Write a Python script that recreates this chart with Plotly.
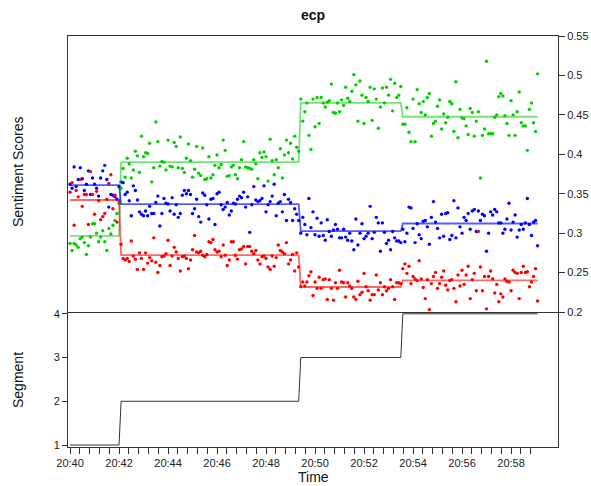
import pandas as pd
import plotly.graph_objects as go

# ---- data ----
seg_numbers = [1, 2, 3, 4]
seg_lengths = [25, 88, 50, 67]          # points per segment (5 s sampling)
green_means = [0.2965, 0.390, 0.4653, 0.4476]
blue_means = [0.361, 0.3367, 0.3025, 0.3122]
red_means = [0.342, 0.272, 0.2317, 0.2402]

green_scores = [
    # segment 1
    0.287, 0.278, 0.287, 0.285, 0.282, 0.293, 0.295, 0.288, 0.273, 0.284,
    0.295, 0.312, 0.312, 0.300, 0.289, 0.295, 0.303, 0.289, 0.278, 0.306,
    0.299, 0.310, 0.316, 0.325, 0.338,
    # segment 2
    0.357, 0.382, 0.371, 0.395, 0.388, 0.370, 0.380, 0.404, 0.398, 0.377,
    0.423, 0.397, 0.402, 0.401, 0.414, 0.365, 0.383, 0.441, 0.416, 0.385,
    0.391, 0.390, 0.380, 0.418, 0.385, 0.384, 0.415, 0.410, 0.383, 0.422,
    0.382, 0.377,
    0.395, 0.413, 0.392, 0.371, 0.381, 0.410, 0.376, 0.373, 0.408, 0.368,
    0.369, 0.397, 0.370, 0.374, 0.386, 0.399, 0.383, 0.387, 0.418, 0.405,
    0.372, 0.373, 0.384, 0.386, 0.374, 0.369, 0.383, 0.393, 0.416, 0.384,
    0.383, 0.382, 0.381, 0.393, 0.388, 0.369, 0.402, 0.396, 0.403, 0.397,
    0.366, 0.419, 0.392, 0.374, 0.393, 0.383, 0.407, 0.370, 0.399, 0.418,
    0.402, 0.414, 0.394, 0.423, 0.409, 0.404,
    # segment 3
    0.470, 0.442, 0.454, 0.465, 0.424, 0.406, 0.470, 0.435, 0.472, 0.439,
    0.472, 0.465, 0.460, 0.466, 0.468, 0.489, 0.453, 0.452, 0.465, 0.454,
    0.469, 0.462, 0.485, 0.471, 0.467, 0.480, 0.501, 0.488, 0.442, 0.493,
    0.475, 0.439, 0.472, 0.467, 0.485, 0.443, 0.483, 0.470, 0.433, 0.460,
    0.484, 0.465, 0.485, 0.475, 0.495, 0.455, 0.490, 0.472, 0.475, 0.486,
    # segment 4
    0.438, 0.438, 0.459, 0.428, 0.416, 0.470, 0.416,
    0.482, 0.464, 0.453, 0.467, 0.450, 0.472, 0.477, 0.423, 0.439, 0.442,
    0.461, 0.469, 0.432, 0.451, 0.440, 0.447, 0.467, 0.464, 0.429, 0.492,
    0.421, 0.457, 0.446, 0.445, 0.436, 0.425, 0.458, 0.453, 0.423, 0.442,
    0.454, 0.370, 0.424, 0.432, 0.518, 0.426, 0.426, 0.426, 0.447, 0.450,
    0.473, 0.477, 0.474, 0.449, 0.439, 0.424, 0.468, 0.450, 0.424, 0.454,
    0.479, 0.440, 0.436, 0.436, 0.405, 0.457, 0.465, 0.440, 0.429, 0.502,
]

blue_scores = [
    # segment 1
    0.362, 0.357, 0.384, 0.359, 0.368, 0.383, 0.369, 0.354, 0.362, 0.379,
    0.349, 0.370, 0.362, 0.357, 0.347, 0.370, 0.379, 0.386, 0.368, 0.333,
    0.349, 0.348, 0.346, 0.343, 0.359,
    # segment 2
    0.365, 0.364, 0.349, 0.352, 0.341, 0.322, 0.360, 0.354, 0.342, 0.327,
    0.324, 0.322, 0.328, 0.322, 0.334, 0.325, 0.325, 0.339, 0.347, 0.309,
    0.325, 0.344, 0.338, 0.337, 0.328, 0.345, 0.324, 0.336, 0.320, 0.325,
    0.348, 0.354,
    0.350, 0.354, 0.349, 0.325, 0.331, 0.343, 0.321, 0.314, 0.351, 0.348,
    0.336, 0.318, 0.343, 0.344, 0.311, 0.350, 0.352, 0.336, 0.330, 0.333,
    0.339, 0.323, 0.328, 0.338, 0.337, 0.343, 0.347, 0.345, 0.352, 0.333,
    0.346, 0.301, 0.336, 0.359, 0.342, 0.340, 0.341, 0.344, 0.360, 0.327,
    0.336, 0.340, 0.347, 0.362, 0.322, 0.338, 0.340, 0.327, 0.349, 0.316,
    0.343, 0.339, 0.316, 0.331, 0.324, 0.316,
    # segment 3
    0.300, 0.320, 0.311, 0.298, 0.344, 0.307, 0.327, 0.298, 0.319, 0.296,
    0.313, 0.297, 0.291, 0.317, 0.302, 0.296, 0.304, 0.311, 0.305, 0.294,
    0.294, 0.305, 0.295, 0.291, 0.300, 0.290, 0.279, 0.318, 0.285, 0.300,
    0.312, 0.293, 0.296, 0.300, 0.334, 0.293, 0.301, 0.320, 0.313, 0.277,
    0.313, 0.301, 0.287, 0.291, 0.279, 0.302, 0.294, 0.290, 0.290, 0.288,
    # segment 4
    0.305, 0.289, 0.300, 0.333, 0.332, 0.306, 0.288, 0.312,
    0.298, 0.293, 0.315, 0.316, 0.308, 0.286, 0.320, 0.340, 0.314, 0.306,
    0.294, 0.324, 0.296, 0.325, 0.326, 0.292, 0.297, 0.341, 0.294, 0.332,
    0.308, 0.300, 0.320, 0.316, 0.325, 0.305, 0.328, 0.330, 0.302, 0.328,
    0.316, 0.324, 0.322, 0.277, 0.300, 0.327, 0.323, 0.330, 0.327, 0.313,
    0.313, 0.300, 0.305, 0.318, 0.338, 0.304, 0.314, 0.323, 0.295, 0.304,
    0.311, 0.305, 0.313, 0.344, 0.311, 0.297, 0.314, 0.316, 0.284,
]

red_scores = [
    # segment 1
    0.352, 0.364, 0.310, 0.354, 0.346, 0.368, 0.334, 0.349, 0.349, 0.311,
    0.378, 0.349, 0.324, 0.353, 0.341, 0.317, 0.321, 0.325, 0.343, 0.363,
    0.374, 0.331, 0.348, 0.314, 0.341,
    # segment 2
    0.286, 0.268, 0.266, 0.268, 0.264, 0.290, 0.271, 0.267, 0.254, 0.275,
    0.268, 0.254, 0.275, 0.262, 0.269, 0.265, 0.294, 0.263, 0.250, 0.259,
    0.270, 0.271, 0.274, 0.291, 0.259, 0.271, 0.282, 0.276, 0.268, 0.252,
    0.270, 0.271,
    0.268, 0.255, 0.266, 0.279, 0.297, 0.276, 0.275, 0.277, 0.272, 0.270,
    0.273, 0.289, 0.288, 0.292, 0.279, 0.276, 0.277, 0.270, 0.285, 0.272,
    0.259, 0.266, 0.289, 0.289, 0.272, 0.267, 0.279, 0.280, 0.283, 0.261,
    0.283, 0.283, 0.277, 0.274, 0.278, 0.266, 0.261, 0.270, 0.271, 0.268,
    0.257, 0.254, 0.271, 0.258, 0.269, 0.285, 0.278, 0.276, 0.274, 0.288,
    0.261, 0.266, 0.273, 0.252, 0.275, 0.257,
    # segment 3
    0.232, 0.238, 0.233, 0.238, 0.246, 0.251, 0.221, 0.238, 0.230, 0.244,
    0.230, 0.241, 0.242, 0.216, 0.241, 0.230, 0.215, 0.237, 0.230, 0.253,
    0.238, 0.237, 0.219, 0.237, 0.233, 0.230, 0.219, 0.216, 0.239, 0.222,
    0.225, 0.249, 0.232, 0.227, 0.215, 0.222, 0.222, 0.247, 0.228, 0.237,
    0.222, 0.232, 0.227, 0.230, 0.241, 0.232, 0.216, 0.237, 0.237, 0.236,
    # segment 4
    0.255, 0.261, 0.249, 0.258, 0.236, 0.245, 0.242, 0.240, 0.265,
    0.242, 0.231, 0.217, 0.241, 0.203, 0.236, 0.245, 0.250, 0.230, 0.236,
    0.244, 0.252, 0.234, 0.228, 0.240, 0.241, 0.230, 0.213, 0.247, 0.233,
    0.253, 0.235, 0.247, 0.258, 0.217, 0.241, 0.249, 0.227, 0.302, 0.257,
    0.227, 0.245, 0.204, 0.245, 0.252, 0.242, 0.224, 0.235, 0.213, 0.223,
    0.219, 0.242, 0.239, 0.238, 0.227, 0.253, 0.250, 0.249, 0.217, 0.250,
    0.258, 0.250, 0.251, 0.232, 0.238, 0.245, 0.255, 0.214,
]

x_tick_labels = ["20:40", "20:42", "20:44", "20:46", "20:48",
                 "20:50", "20:52", "20:54", "20:56", "20:58"]

# ---- derived structures ----
n = sum(seg_lengths)
times = pd.date_range("2014-03-01 20:40:00", periods=n, freq="5s")
segment = []
g_mean, b_mean, r_mean = [], [], []
for k, L in enumerate(seg_lengths):
    segment += [seg_numbers[k]] * L
    g_mean += [green_means[k]] * L
    b_mean += [blue_means[k]] * L
    r_mean += [red_means[k]] * L

GREEN = "#00D000"
BLUE = "#0000FF"
RED = "#FF0000"

fig = go.Figure()
for vals, col in [(green_scores, GREEN), (blue_scores, BLUE), (red_scores, RED)]:
    fig.add_trace(go.Scatter(x=times[:len(vals)], y=vals, mode="markers",
                             marker=dict(color=col, size=3.4, line=dict(width=0)),
                             xaxis="x2", yaxis="y2", showlegend=False))
for vals, col in [(g_mean, "rgba(0,205,0,0.55)"), (b_mean, "rgba(0,0,255,0.65)"),
                  (r_mean, "rgba(255,0,0,0.6)")]:
    fig.add_trace(go.Scatter(x=times, y=vals, mode="lines",
                             line=dict(color=col, width=1.8),
                             xaxis="x2", yaxis="y2", showlegend=False))
fig.add_trace(go.Scatter(x=times, y=segment, mode="lines",
                         line=dict(color="#333333", width=1),
                         xaxis="x", yaxis="y", showlegend=False))

# tick positions every 24 s, labelled each 2 minutes
tick_times = pd.date_range("2014-03-01 20:40:00", "2014-03-01 20:58:48", freq="24s")
tick_text = []
lab_i = 0
for t in tick_times:
    if t.second == 0 and t.minute % 2 == 0:
        tick_text.append(x_tick_labels[lab_i])
        lab_i += 1
    else:
        tick_text.append("")

xrange = ["2014-03-01 20:39:55", "2014-03-01 20:59:55"]
split = 135 / 411
axis_font = dict(family="Liberation Sans, Arial, sans-serif", size=11, color="#222")

fig.update_layout(
    width=591, height=486,
    margin=dict(l=68, r=33, t=36, b=39, autoexpand=False),
    paper_bgcolor="white", plot_bgcolor="white",
    font=dict(family="Liberation Sans, Arial, sans-serif", color="#111"),
    xaxis=dict(domain=[0, 1], anchor="y", range=xrange, type="date", automargin=False,
               tickmode="array", tickvals=list(tick_times), ticktext=tick_text,
               ticks="outside", ticklen=6, tickcolor="#333", tickwidth=1,
               showline=True, mirror=False, linecolor="#333", linewidth=1,
               showgrid=False, zeroline=False, tickfont=axis_font),
    xaxis2=dict(domain=[0, 1], anchor="y2", range=xrange, type="date", automargin=False,
                matches="x", showticklabels=False, ticks="",
                showline=True, mirror=True, linecolor="#333", linewidth=1,
                showgrid=False, zeroline=False),
    yaxis=dict(domain=[0, split], anchor="x", range=[0.955, 4.04], side="left",
               automargin=False,
               tickmode="array", tickvals=seg_numbers, ticktext=[str(s) for s in seg_numbers],
               ticks="outside", ticklen=5, tickcolor="#333",
               showline=True, mirror=True, linecolor="#333", linewidth=1,
               showgrid=False, zeroline=False, tickfont=axis_font),
    yaxis2=dict(domain=[split, 1], anchor="x2", range=[0.2, 0.55], side="right",
                automargin=False, tickmode="array",
                tickvals=[0.2, 0.25, 0.3, 0.35, 0.4, 0.45, 0.5, 0.55],
                ticktext=["0.2", "0.25", "0.3", "0.35", "0.4", "0.45", "0.5", "0.55"],
                ticks="outside", ticklen=6, tickcolor="#333",
                showline=True, mirror=True, linecolor="#333", linewidth=1,
                showgrid=False, zeroline=False, tickfont=axis_font),
    annotations=[
        dict(text="<b>ecp</b>", x=0.5, y=(447 - 15) / 411, xref="paper", yref="paper",
             showarrow=False, font=dict(size=14, color="#111"), xanchor="center", yanchor="middle"),
        dict(text="Sentiment Scores", x=(18 - 68) / 490, y=(447 - 172) / 411,
             xref="paper", yref="paper", showarrow=False, textangle=-90,
             font=dict(size=14, color="#111"), xanchor="center", yanchor="middle"),
        dict(text="Segment", x=(18 - 68) / 490, y=(447 - 380) / 411,
             xref="paper", yref="paper", showarrow=False, textangle=-90,
             font=dict(size=14, color="#111"), xanchor="center", yanchor="middle"),
        dict(text="Time", x=0.5, y=(447 - 477) / 411, xref="paper", yref="paper",
             showarrow=False, font=dict(size=14, color="#111"),
             xanchor="center", yanchor="middle"),
    ],
)

fig.write_html("out.html")
